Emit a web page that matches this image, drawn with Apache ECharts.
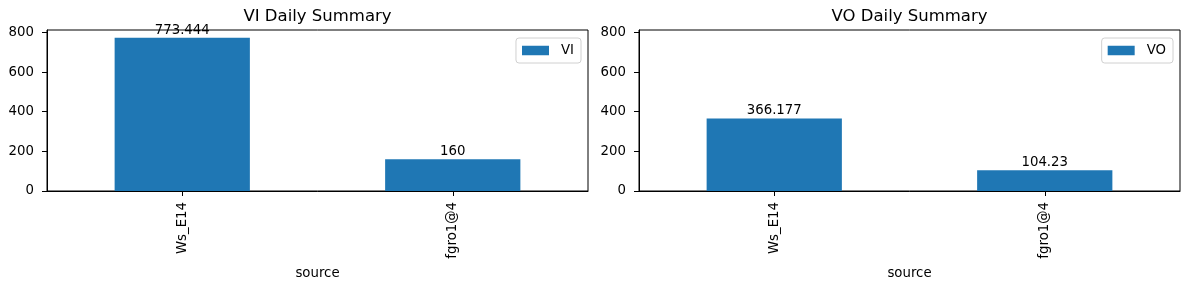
<!DOCTYPE html>
<html>
<head>
<meta charset="utf-8">
<script src="https://cdn.jsdelivr.net/npm/echarts@6/dist/echarts.min.js"></script>
<style>
html,body{margin:0;padding:0;background:#fff;}
#chart{width:1189px;height:290px;}
</style>
</head>
<body>
<div id="chart"></div>
<script>
const categories = ['Ws_E14', 'fgro1@4'];
const viValues = [773.444, 160];
const voValues = [366.177, 104.23];
const viLabels = ['773.444', '160'];
const voLabels = ['366.177', '104.23'];
const yTicks = [0, 200, 400, 600, 800];
const titles = ['VI Daily Summary', 'VO Daily Summary'];
const seriesNames = ['VI', 'VO'];

const FONT = 'DejaVu Sans';
const FS = 13.3;
const BLUE = '#1f77b4';
const yMax = 773.444 * 1.05;

const chart = echarts.init(document.getElementById('chart'), null, {renderer: 'canvas'});

const grids = [
  {left: 47, top: 30, width: 541, height: 161},
  {left: 639, top: 30, width: 541, height: 161}
];

function xAxis(i) {
  return {
    type: 'category', gridIndex: i, data: categories,
    name: 'source', nameLocation: 'middle', nameGap: 70,
    nameTextStyle: {fontFamily: FONT, fontSize: FS, color: '#000'},
    axisLine: {show: true, lineStyle: {color: '#000', width: 1}},
    axisTick: {show: true, alignWithLabel: true, length: 5, lineStyle: {color: '#000'}},
    axisLabel: {rotate: 90, margin: 11, fontFamily: FONT, fontSize: FS, color: '#000'},
    splitLine: {show: false}
  };
}
function yAxis(i) {
  return {
    type: 'value', gridIndex: i, min: 0, max: yMax,
    axisLine: {show: true, lineStyle: {color: '#000', width: 1}},
    axisTick: {show: true, length: 5, lineStyle: {color: '#000'}, customValues: yTicks},
    axisLabel: {margin: 13, fontFamily: FONT, fontSize: FS, color: '#000', customValues: yTicks},
    splitLine: {show: false}
  };
}
function series(i, vals, labels) {
  return {
    type: 'bar', name: seriesNames[i], xAxisIndex: i, yAxisIndex: i,
    data: vals, barWidth: '50%',
    itemStyle: {color: BLUE},
    label: {show: true, position: 'top', distance: 1, fontFamily: FONT, fontSize: FS, color: '#000',
      formatter: p => labels[p.dataIndex]}
  };
}
function legend(i, rightEdge) {
  return {
    data: [seriesNames[i]], right: 1189 - rightEdge, top: 38, orient: 'vertical',
    itemWidth: 27, itemHeight: 9.5, itemGap: 0,
    padding: [6, 7, 6, 6], borderColor: '#d0d0d0', borderWidth: 1, borderRadius: 3,
    backgroundColor: 'rgba(255,255,255,0.8)',
    textStyle: {fontFamily: FONT, fontSize: FS, color: '#000', padding: [0, 0, 0, 7]},
    icon: 'rect'
  };
}

const option = {
  animation: false,
  backgroundColor: '#fff',
  graphic: [
    {type: 'text', x: 317.5, y: 8, style: {text: titles[0], textAlign: 'center', textVerticalAlign: 'top',
      fontFamily: FONT, fontSize: 16.5, fill: '#000'}},
    {type: 'text', x: 909.5, y: 8, style: {text: titles[1], textAlign: 'center', textVerticalAlign: 'top',
      fontFamily: FONT, fontSize: 16.5, fill: '#000'}}
  ],
  legend: [legend(0, 581), legend(1, 1173)],
  grid: grids.map(g => Object.assign({show: true, borderColor: '#000', borderWidth: 1, backgroundColor: '#fff'}, g)),
  xAxis: [xAxis(0), xAxis(1)],
  yAxis: [yAxis(0), yAxis(1)],
  series: [series(0, viValues, viLabels), series(1, voValues, voLabels)]
};
chart.setOption(option);
</script>
</body>
</html>
